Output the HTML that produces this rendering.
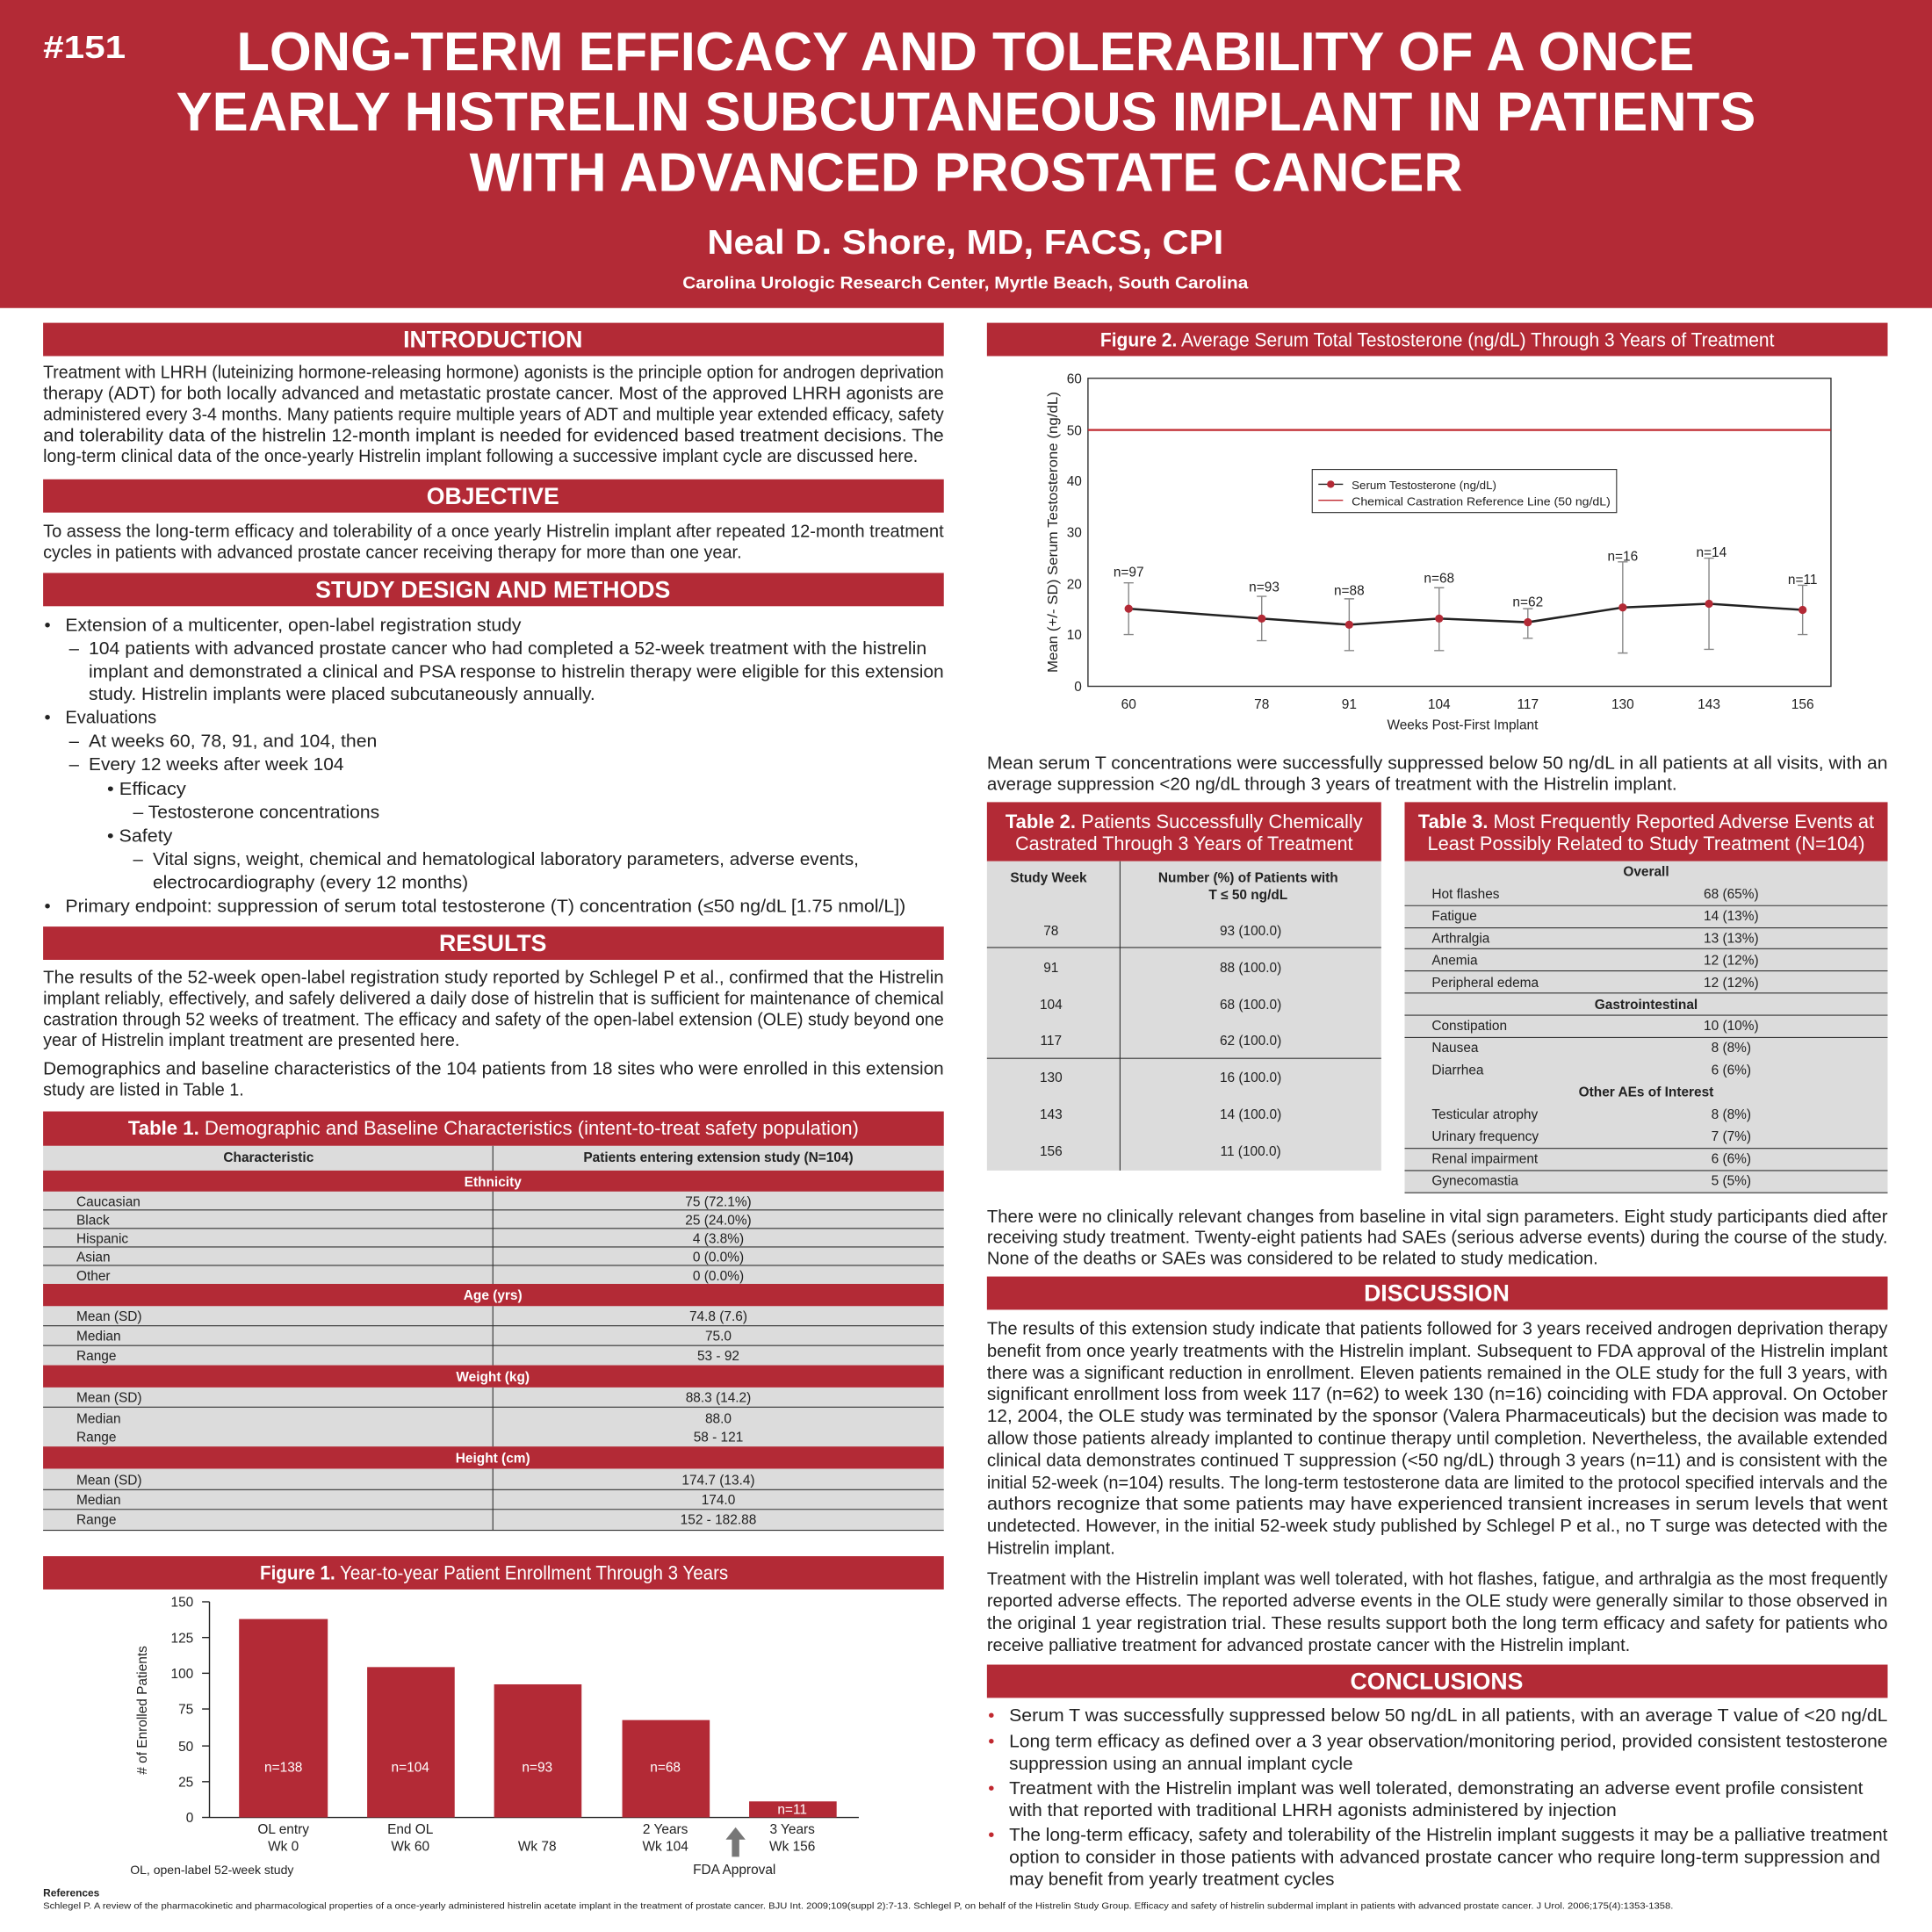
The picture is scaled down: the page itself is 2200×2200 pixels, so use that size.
<!DOCTYPE html>
<html><head><meta charset="utf-8"><style>
html,body{margin:0;padding:0;background:#fff}
svg{display:block}
text{font-family:"Liberation Sans",sans-serif;fill:#222}
.b{font-size:14.5px}
.w{fill:#fff}
.h{font-weight:bold;fill:#fff;font-size:19px}
.t{font-size:11px}
.tb{font-size:11px;font-weight:bold}
</style></head><body>
<svg width="2200" height="2200" viewBox="0 0 1568 1568" xmlns="http://www.w3.org/2000/svg">
<rect x="0" y="0" width="1568" height="1568" fill="#fff"/>
<rect x="0" y="0" width="1568" height="250" fill="#b32a36"/>
<text x="35" y="47" font-size="26" font-weight="bold" class="w" textLength="67" lengthAdjust="spacingAndGlyphs">#151</text>
<g font-weight="bold" font-size="44" class="w">
<text x="192" y="57" class="w" textLength="1183" lengthAdjust="spacingAndGlyphs">LONG-TERM EFFICACY AND TOLERABILITY OF A ONCE</text>
<text x="143" y="106" class="w" textLength="1282" lengthAdjust="spacingAndGlyphs">YEARLY HISTRELIN SUBCUTANEOUS IMPLANT IN PATIENTS</text>
<text x="381" y="155" class="w" textLength="806" lengthAdjust="spacingAndGlyphs">WITH ADVANCED PROSTATE CANCER</text>
</g>
<text x="574" y="206" font-size="28" font-weight="bold" class="w" textLength="419" lengthAdjust="spacingAndGlyphs">Neal D. Shore, MD, FACS, CPI</text>
<text x="554" y="234" font-size="14" font-weight="bold" class="w" textLength="459" lengthAdjust="spacingAndGlyphs">Carolina Urologic Research Center, Myrtle Beach, South Carolina</text>

<g fill="#b32a36">
<rect x="35" y="262" width="731" height="27"/>
<rect x="35" y="389" width="731" height="27"/>
<rect x="35" y="465" width="731" height="27"/>
<rect x="35" y="752" width="731" height="27"/>
<rect x="35" y="902" width="731" height="28"/>
<rect x="35" y="1263" width="731" height="27"/>
<rect x="801" y="262" width="731" height="27"/>
<rect x="801" y="651" width="320" height="48"/>
<rect x="1140" y="651" width="392" height="48"/>
<rect x="801" y="1036" width="731" height="27"/>
<rect x="801" y="1351" width="731" height="27"/>
</g>
<g text-anchor="middle">
<text x="400" y="282" class="h">INTRODUCTION</text>
<text x="400" y="409" class="h">OBJECTIVE</text>
<text x="400" y="485" class="h">STUDY DESIGN AND METHODS</text>
<text x="400" y="772" class="h">RESULTS</text>
<text x="1166" y="1056" class="h">DISCUSSION</text>
<text x="1166" y="1371" class="h">CONCLUSIONS</text>
</g>

<g class="b">
<text x="35" y="307" class="b" textLength="731" lengthAdjust="spacingAndGlyphs">Treatment with LHRH (luteinizing hormone-releasing hormone) agonists is the principle option for androgen deprivation</text>
<text x="35" y="324" class="b" textLength="731" lengthAdjust="spacingAndGlyphs">therapy (ADT) for both locally advanced and metastatic prostate cancer. Most of the approved LHRH agonists are</text>
<text x="35" y="341" class="b" textLength="731" lengthAdjust="spacingAndGlyphs">administered every 3-4 months. Many patients require multiple years of ADT and multiple year extended efficacy, safety</text>
<text x="35" y="358" class="b" textLength="731" lengthAdjust="spacingAndGlyphs">and tolerability data of the histrelin 12-month implant is needed for evidenced based treatment decisions. The</text>
<text x="35" y="375" class="b" textLength="710" lengthAdjust="spacingAndGlyphs">long-term clinical data of the once-yearly Histrelin implant following a successive implant cycle are discussed here.</text>

<text x="35" y="436" class="b" textLength="731" lengthAdjust="spacingAndGlyphs">To assess the long-term efficacy and tolerability of a once yearly Histrelin implant after repeated 12-month treatment</text>
<text x="35" y="453" class="b" textLength="567" lengthAdjust="spacingAndGlyphs">cycles in patients with advanced prostate cancer receiving therapy for more than one year.</text>

<text x="36" y="512" class="b">•</text><text x="53" y="512" class="b" textLength="370" lengthAdjust="spacingAndGlyphs">Extension of a multicenter,  open-label registration study</text>
<text x="56" y="531" class="b">–</text><text x="72" y="531" class="b" textLength="680" lengthAdjust="spacingAndGlyphs">104 patients with advanced prostate cancer who had completed a 52-week treatment with the histrelin</text>
<text x="72" y="550" class="b" textLength="694" lengthAdjust="spacingAndGlyphs">implant and demonstrated a clinical and PSA response to histrelin therapy were eligible for this extension</text>
<text x="72" y="568" class="b" textLength="411" lengthAdjust="spacingAndGlyphs">study. Histrelin implants were placed subcutaneously annually.</text>
<text x="36" y="587" class="b">•</text><text x="53" y="587" class="b" textLength="74" lengthAdjust="spacingAndGlyphs">Evaluations</text>
<text x="56" y="606" class="b">–</text><text x="72" y="606" class="b" textLength="234" lengthAdjust="spacingAndGlyphs">At weeks 60, 78, 91, and 104, then</text>
<text x="56" y="625" class="b">–</text><text x="72" y="625" class="b" textLength="207" lengthAdjust="spacingAndGlyphs">Every 12 weeks after week 104</text>
<text x="87" y="645" class="b" textLength="64" lengthAdjust="spacingAndGlyphs">• Efficacy</text>
<text x="108" y="664" class="b" textLength="200" lengthAdjust="spacingAndGlyphs">– Testosterone concentrations</text>
<text x="87" y="683" class="b" textLength="53" lengthAdjust="spacingAndGlyphs">• Safety</text>
<text x="108" y="702" class="b">–</text><text x="124" y="702" class="b" textLength="573" lengthAdjust="spacingAndGlyphs">Vital signs, weight, chemical and hematological laboratory parameters, adverse events,</text>
<text x="124" y="721" class="b" textLength="256" lengthAdjust="spacingAndGlyphs">electrocardiography (every 12 months)</text>
<text x="36" y="740" class="b">•</text><text x="53" y="740" class="b" textLength="682" lengthAdjust="spacingAndGlyphs">Primary endpoint: suppression of serum total testosterone (T) concentration (≤50 ng/dL [1.75 nmol/L])</text>

<text x="35" y="798" class="b" textLength="731" lengthAdjust="spacingAndGlyphs">The results of the 52-week open-label registration study reported by Schlegel P et al., confirmed that the Histrelin</text>
<text x="35" y="815" class="b" textLength="731" lengthAdjust="spacingAndGlyphs">implant reliably, effectively, and safely delivered a daily dose of histrelin that is sufficient for maintenance of chemical</text>
<text x="35" y="832" class="b" textLength="731" lengthAdjust="spacingAndGlyphs">castration through 52 weeks of treatment. The efficacy and safety of the open-label extension (OLE) study beyond one</text>
<text x="35" y="849" class="b" textLength="338" lengthAdjust="spacingAndGlyphs">year of Histrelin implant treatment are presented here.</text>
<text x="35" y="872" class="b" textLength="731" lengthAdjust="spacingAndGlyphs">Demographics and baseline characteristics of the 104 patients from 18 sites who were enrolled in this extension</text>
<text x="35" y="889" class="b" textLength="163" lengthAdjust="spacingAndGlyphs">study are listed in Table 1.</text>
</g>

<text x="104" y="921" font-size="16" class="w" textLength="593" lengthAdjust="spacingAndGlyphs"><tspan font-weight="bold" class="w">Table 1.</tspan> Demographic and Baseline Characteristics (intent-to-treat safety population)</text>
<rect x="35" y="930" width="731" height="312" fill="#dcdcdc"/>
<g fill="#b32a36">
<rect x="35" y="950" width="731" height="17"/>
<rect x="35" y="1042" width="731" height="18"/>
<rect x="35" y="1108" width="731" height="18"/>
<rect x="35" y="1174" width="731" height="18"/>
</g>
<g stroke="#333" stroke-width="0.8">
<line x1="400" y1="930" x2="400" y2="950"/>
<line x1="400" y1="967" x2="400" y2="1042"/>
<line x1="400" y1="1060" x2="400" y2="1108"/>
<line x1="400" y1="1126" x2="400" y2="1174"/>
<line x1="400" y1="1192" x2="400" y2="1242"/>
<line x1="35" y1="982" x2="766" y2="982"/>
<line x1="35" y1="997" x2="766" y2="997"/>
<line x1="35" y1="1012" x2="766" y2="1012"/>
<line x1="35" y1="1027" x2="766" y2="1027"/>
<line x1="35" y1="1076" x2="766" y2="1076"/>
<line x1="35" y1="1092" x2="766" y2="1092"/>
<line x1="35" y1="1142" x2="766" y2="1142"/>
<line x1="35" y1="1209" x2="766" y2="1209"/>
<line x1="35" y1="1225" x2="766" y2="1225"/>
<line x1="35" y1="1242" x2="766" y2="1242"/>
</g>
<g class="t" font-size="11">
<text x="218" y="943" class="tb" text-anchor="middle">Characteristic</text>
<text x="583" y="943" class="tb" text-anchor="middle">Patients entering extension study (N=104)</text>
<text x="400" y="963" class="tb w" text-anchor="middle">Ethnicity</text>
<text x="400" y="1055" class="tb w" text-anchor="middle">Age (yrs)</text>
<text x="400" y="1121" class="tb w" text-anchor="middle">Weight (kg)</text>
<text x="400" y="1187" class="tb w" text-anchor="middle">Height (cm)</text>
<text x="62" y="979" class="t">Caucasian</text><text x="583" y="979" class="t" text-anchor="middle">75 (72.1%)</text>
<text x="62" y="994" class="t">Black</text><text x="583" y="994" class="t" text-anchor="middle">25 (24.0%)</text>
<text x="62" y="1009" class="t">Hispanic</text><text x="583" y="1009" class="t" text-anchor="middle">4 (3.8%)</text>
<text x="62" y="1024" class="t">Asian</text><text x="583" y="1024" class="t" text-anchor="middle">0 (0.0%)</text>
<text x="62" y="1039" class="t">Other</text><text x="583" y="1039" class="t" text-anchor="middle">0 (0.0%)</text>
<text x="62" y="1072" class="t">Mean (SD)</text><text x="583" y="1072" class="t" text-anchor="middle">74.8 (7.6)</text>
<text x="62" y="1088" class="t">Median</text><text x="583" y="1088" class="t" text-anchor="middle">75.0</text>
<text x="62" y="1104" class="t">Range</text><text x="583" y="1104" class="t" text-anchor="middle">53 - 92</text>
<text x="62" y="1138" class="t">Mean (SD)</text><text x="583" y="1138" class="t" text-anchor="middle">88.3 (14.2)</text>
<text x="62" y="1155" class="t">Median</text><text x="583" y="1155" class="t" text-anchor="middle">88.0</text>
<text x="62" y="1170" class="t">Range</text><text x="583" y="1170" class="t" text-anchor="middle">58 - 121</text>
<text x="62" y="1205" class="t">Mean (SD)</text><text x="583" y="1205" class="t" text-anchor="middle">174.7 (13.4)</text>
<text x="62" y="1221" class="t">Median</text><text x="583" y="1221" class="t" text-anchor="middle">174.0</text>
<text x="62" y="1237" class="t">Range</text><text x="583" y="1237" class="t" text-anchor="middle">152 - 182.88</text>
</g>

<text x="211" y="1282" font-size="16" class="w" textLength="380" lengthAdjust="spacingAndGlyphs"><tspan font-weight="bold" class="w">Figure 1.</tspan> Year-to-year Patient Enrollment Through 3 Years</text>
<g stroke="#222" stroke-width="1">
<line x1="170" y1="1300" x2="170" y2="1475"/>
<line x1="170" y1="1475" x2="697" y2="1475"/>
<line x1="164" y1="1300" x2="170" y2="1300"/>
<line x1="164" y1="1329" x2="170" y2="1329"/>
<line x1="164" y1="1358" x2="170" y2="1358"/>
<line x1="164" y1="1387" x2="170" y2="1387"/>
<line x1="164" y1="1417" x2="170" y2="1417"/>
<line x1="164" y1="1446" x2="170" y2="1446"/>
<line x1="164" y1="1475" x2="170" y2="1475"/>
</g>
<g font-size="11" text-anchor="end">
<text x="157" y="1304" font-size="11">150</text>
<text x="157" y="1333" font-size="11">125</text>
<text x="157" y="1362" font-size="11">100</text>
<text x="157" y="1391" font-size="11">75</text>
<text x="157" y="1421" font-size="11">50</text>
<text x="157" y="1450" font-size="11">25</text>
<text x="157" y="1479" font-size="11">0</text>
</g>
<text transform="translate(119,1388) rotate(-90)" text-anchor="middle" font-size="11">#  of Enrolled Patients</text>
<g fill="#b32a36">
<rect x="194" y="1314" width="72" height="161"/>
<rect x="298" y="1353" width="71" height="122"/>
<rect x="401" y="1367" width="71" height="108"/>
<rect x="505" y="1396" width="71" height="79"/>
<rect x="608" y="1462" width="71" height="13"/>
</g>
<g font-size="11" text-anchor="middle">
<text x="230" y="1438" class="w" font-size="11">n=138</text>
<text x="333" y="1438" class="w" font-size="11">n=104</text>
<text x="436" y="1438" class="w" font-size="11">n=93</text>
<text x="540" y="1438" class="w" font-size="11">n=68</text>
<text x="643" y="1472" class="w" font-size="11">n=11</text>
<text x="230" y="1488" font-size="11">OL entry</text><text x="230" y="1502" font-size="11">Wk 0</text>
<text x="333" y="1488" font-size="11">End OL</text><text x="333" y="1502" font-size="11">Wk 60</text>
<text x="436" y="1502" font-size="11">Wk 78</text>
<text x="540" y="1488" font-size="11">2 Years</text><text x="540" y="1502" font-size="11">Wk 104</text>
<text x="643" y="1488" font-size="11">3 Years</text><text x="643" y="1502" font-size="11">Wk 156</text>
<text x="596" y="1521" font-size="11">FDA Approval</text>
<text x="172" y="1521" font-size="10">OL, open-label 52-week study</text>
</g>
<polygon points="597,1483 605,1493 600,1493 600,1507 594,1507 594,1493 589,1493" fill="#777"/>
<text x="35" y="1539" font-size="8.5" font-weight="bold">References</text>
<text x="35" y="1549" font-size="7.5" fill="#444" textLength="1323" lengthAdjust="spacingAndGlyphs">Schlegel P. A review of the pharmacokinetic and pharmacological properties of a once-yearly administered histrelin acetate implant in the treatment of prostate cancer. BJU Int. 2009;109(suppl 2):7-13. Schlegel P, on behalf of the Histrelin Study Group. Efficacy and safety of histrelin subdermal implant in patients with advanced prostate cancer. J Urol. 2006;175(4):1353-1358.</text>

<text x="893" y="281" font-size="16" class="w" textLength="547" lengthAdjust="spacingAndGlyphs"><tspan font-weight="bold" class="w">Figure 2.</tspan> Average Serum Total Testosterone (ng/dL) Through 3 Years of Treatment</text>
<rect x="883" y="307" width="603" height="250" fill="none" stroke="#333" stroke-width="1"/>
<line x1="883" y1="349" x2="1486" y2="349" stroke="#c0282f" stroke-width="1.6"/>
<g font-size="11" text-anchor="end">
<text x="878" y="311" font-size="11">60</text>
<text x="878" y="353" font-size="11">50</text>
<text x="878" y="394" font-size="11">40</text>
<text x="878" y="436" font-size="11">30</text>
<text x="878" y="478" font-size="11">20</text>
<text x="878" y="519" font-size="11">10</text>
<text x="878" y="561" font-size="11">0</text>
</g>
<text transform="translate(858,432) rotate(-90)" text-anchor="middle" font-size="11" textLength="228" lengthAdjust="spacingAndGlyphs">Mean (+/- SD) Serum Testosterone (ng/dL)</text>
<g font-size="11" text-anchor="middle">
<text x="916" y="575" font-size="11">60</text>
<text x="1024" y="575" font-size="11">78</text>
<text x="1095" y="575" font-size="11">91</text>
<text x="1168" y="575" font-size="11">104</text>
<text x="1240" y="575" font-size="11">117</text>
<text x="1317" y="575" font-size="11">130</text>
<text x="1387" y="575" font-size="11">143</text>
<text x="1463" y="575" font-size="11">156</text>
<text x="1187" y="592" font-size="11">Weeks Post-First Implant</text>
<text x="916" y="468" font-size="11">n=97</text>
<text x="1026" y="480" font-size="11">n=93</text>
<text x="1095" y="483" font-size="11">n=88</text>
<text x="1168" y="473" font-size="11">n=68</text>
<text x="1240" y="492" font-size="11">n=62</text>
<text x="1317" y="455" font-size="11">n=16</text>
<text x="1389" y="452" font-size="11">n=14</text>
<text x="1463" y="474" font-size="11">n=11</text>
</g>
<g stroke="#888" stroke-width="1">
<path d="M916 473V515M912 473H920M912 515H920"/>
<path d="M1024 484V520M1020 484H1028M1020 520H1028"/>
<path d="M1095 486V528M1091 486H1099M1091 528H1099"/>
<path d="M1168 477V528M1164 477H1172M1164 528H1172"/>
<path d="M1240 494V518M1236 494H1244M1236 518H1244"/>
<path d="M1317 456V530M1313 456H1321M1313 530H1321"/>
<path d="M1387 453V527M1383 453H1391M1383 527H1391"/>
<path d="M1463 475V515M1459 475H1467M1459 515H1467"/>
</g>
<polyline points="916,494 1024,502 1095,507 1168,502 1240,505 1317,493 1387,490 1463,495" fill="none" stroke="#222" stroke-width="1.8"/>
<g fill="#b32a36">
<circle cx="916" cy="494" r="3.3"/><circle cx="1024" cy="502" r="3.3"/><circle cx="1095" cy="507" r="3.3"/><circle cx="1168" cy="502" r="3.3"/><circle cx="1240" cy="505" r="3.3"/><circle cx="1317" cy="493" r="3.3"/><circle cx="1387" cy="490" r="3.3"/><circle cx="1463" cy="495" r="3.3"/>
</g>
<rect x="1065" y="381" width="247" height="35" fill="#fff" stroke="#333" stroke-width="0.8"/>
<line x1="1070" y1="393" x2="1090" y2="393" stroke="#222" stroke-width="1"/>
<circle cx="1080" cy="393" r="3" fill="#b32a36"/>
<line x1="1070" y1="406" x2="1090" y2="406" stroke="#c0282f" stroke-width="1"/>
<text x="1097" y="397" font-size="9.5">Serum Testosterone (ng/dL)</text>
<text x="1097" y="410" font-size="9.5" textLength="210" lengthAdjust="spacingAndGlyphs">Chemical Castration Reference Line (50 ng/dL)</text>

<text x="801" y="624" class="b" textLength="731" lengthAdjust="spacingAndGlyphs">Mean serum T concentrations were successfully suppressed below 50 ng/dL in all patients at all visits, with an</text>
<text x="801" y="641" class="b" textLength="560" lengthAdjust="spacingAndGlyphs">average suppression &lt;20 ng/dL through 3 years of treatment with the Histrelin implant.</text>

<text x="961" y="672" font-size="15.5" class="w" text-anchor="middle" textLength="290" lengthAdjust="spacingAndGlyphs"><tspan font-weight="bold" class="w">Table 2.</tspan> Patients Successfully Chemically</text>
<text x="961" y="690" font-size="15.5" class="w" text-anchor="middle" textLength="274" lengthAdjust="spacingAndGlyphs">Castrated Through 3 Years of Treatment</text>
<rect x="801" y="699" width="320" height="251" fill="#dcdcdc"/>
<g stroke="#333" stroke-width="0.8">
<line x1="909" y1="699" x2="909" y2="950"/>
<line x1="801" y1="769" x2="1121" y2="769"/>
<line x1="801" y1="859" x2="1121" y2="859"/>
</g>
<g text-anchor="middle" font-size="11">
<text x="851" y="716" class="tb">Study Week</text>
<text x="1013" y="716" class="tb">Number (%) of Patients with</text>
<text x="1013" y="730" class="tb">T ≤ 50 ng/dL</text>
<text x="853" y="759" class="t">78</text><text x="1015" y="759" class="t">93 (100.0)</text>
<text x="853" y="789" class="t">91</text><text x="1015" y="789" class="t">88 (100.0)</text>
<text x="853" y="819" class="t">104</text><text x="1015" y="819" class="t">68 (100.0)</text>
<text x="853" y="848" class="t">117</text><text x="1015" y="848" class="t">62 (100.0)</text>
<text x="853" y="878" class="t">130</text><text x="1015" y="878" class="t">16 (100.0)</text>
<text x="853" y="908" class="t">143</text><text x="1015" y="908" class="t">14 (100.0)</text>
<text x="853" y="938" class="t">156</text><text x="1015" y="938" class="t">11 (100.0)</text>
</g>

<text x="1336" y="672" font-size="15.5" class="w" text-anchor="middle" textLength="370" lengthAdjust="spacingAndGlyphs"><tspan font-weight="bold" class="w">Table 3.</tspan> Most Frequently Reported Adverse Events at</text>
<text x="1336" y="690" font-size="15.5" class="w" text-anchor="middle" textLength="355" lengthAdjust="spacingAndGlyphs">Least Possibly Related to Study Treatment (N=104)</text>
<rect x="1140" y="699" width="392" height="269" fill="#dcdcdc"/>
<g stroke="#333" stroke-width="0.8">
<line x1="1140" y1="735" x2="1532" y2="735"/>
<line x1="1140" y1="753" x2="1532" y2="753"/>
<line x1="1140" y1="770" x2="1532" y2="770"/>
<line x1="1140" y1="788" x2="1532" y2="788"/>
<line x1="1140" y1="806" x2="1532" y2="806"/>
<line x1="1140" y1="824" x2="1532" y2="824"/>
<line x1="1140" y1="842" x2="1532" y2="842"/>
<line x1="1140" y1="932" x2="1532" y2="932"/>
<line x1="1140" y1="950" x2="1532" y2="950"/>
<line x1="1140" y1="968" x2="1532" y2="968"/>
</g>
<g font-size="11">
<text x="1336" y="711" class="tb" text-anchor="middle">Overall</text>
<text x="1336" y="819" class="tb" text-anchor="middle">Gastrointestinal</text>
<text x="1336" y="890" class="tb" text-anchor="middle">Other AEs of Interest</text>
<text x="1162" y="729" class="t">Hot flashes</text><text x="1405" y="729" class="t" text-anchor="middle">68 (65%)</text>
<text x="1162" y="747" class="t">Fatigue</text><text x="1405" y="747" class="t" text-anchor="middle">14 (13%)</text>
<text x="1162" y="765" class="t">Arthralgia</text><text x="1405" y="765" class="t" text-anchor="middle">13 (13%)</text>
<text x="1162" y="783" class="t">Anemia</text><text x="1405" y="783" class="t" text-anchor="middle">12 (12%)</text>
<text x="1162" y="801" class="t">Peripheral edema</text><text x="1405" y="801" class="t" text-anchor="middle">12 (12%)</text>
<text x="1162" y="836" class="t">Constipation</text><text x="1405" y="836" class="t" text-anchor="middle">10 (10%)</text>
<text x="1162" y="854" class="t">Nausea</text><text x="1405" y="854" class="t" text-anchor="middle">8 (8%)</text>
<text x="1162" y="872" class="t">Diarrhea</text><text x="1405" y="872" class="t" text-anchor="middle">6 (6%)</text>
<text x="1162" y="908" class="t">Testicular atrophy</text><text x="1405" y="908" class="t" text-anchor="middle">8 (8%)</text>
<text x="1162" y="926" class="t">Urinary frequency</text><text x="1405" y="926" class="t" text-anchor="middle">7 (7%)</text>
<text x="1162" y="944" class="t">Renal impairment</text><text x="1405" y="944" class="t" text-anchor="middle">6 (6%)</text>
<text x="1162" y="962" class="t">Gynecomastia</text><text x="1405" y="962" class="t" text-anchor="middle">5 (5%)</text>
</g>

<text x="801" y="992" class="b" textLength="731" lengthAdjust="spacingAndGlyphs">There were no clinically relevant changes from baseline in vital sign parameters. Eight study participants died after</text>
<text x="801" y="1009" class="b" textLength="731" lengthAdjust="spacingAndGlyphs">receiving study treatment. Twenty-eight patients had SAEs (serious adverse events) during the course of the study.</text>
<text x="801" y="1026" class="b" textLength="496" lengthAdjust="spacingAndGlyphs">None of the deaths or SAEs was considered to be related to study medication.</text>

<text x="801" y="1083" class="b" textLength="731" lengthAdjust="spacingAndGlyphs">The results of this extension study indicate that patients followed for 3 years received androgen deprivation therapy</text>
<text x="801" y="1101" class="b" textLength="731" lengthAdjust="spacingAndGlyphs">benefit from once yearly treatments with the Histrelin implant. Subsequent to FDA approval of the Histrelin implant</text>
<text x="801" y="1119" class="b" textLength="731" lengthAdjust="spacingAndGlyphs">there was a significant reduction in enrollment. Eleven patients remained in the OLE study for the full 3 years, with</text>
<text x="801" y="1136" class="b" textLength="731" lengthAdjust="spacingAndGlyphs">significant enrollment loss from week 117 (n=62) to week 130 (n=16) coinciding with FDA approval. On October</text>
<text x="801" y="1154" class="b" textLength="731" lengthAdjust="spacingAndGlyphs">12, 2004, the OLE study was terminated by the sponsor (Valera Pharmaceuticals) but the decision was made to</text>
<text x="801" y="1172" class="b" textLength="731" lengthAdjust="spacingAndGlyphs">allow those patients already implanted to continue therapy until completion. Nevertheless, the available extended</text>
<text x="801" y="1190" class="b" textLength="731" lengthAdjust="spacingAndGlyphs">clinical data demonstrates continued T suppression (&lt;50 ng/dL) through 3 years (n=11) and is consistent with the</text>
<text x="801" y="1208" class="b" textLength="731" lengthAdjust="spacingAndGlyphs">initial 52-week (n=104) results. The long-term testosterone data are limited to the protocol specified intervals and the</text>
<text x="801" y="1225" class="b" textLength="731" lengthAdjust="spacingAndGlyphs">authors recognize that some patients may have experienced transient increases in serum levels that went</text>
<text x="801" y="1243" class="b" textLength="731" lengthAdjust="spacingAndGlyphs">undetected. However, in the initial 52-week study published by Schlegel P et al., no T surge was detected with the</text>
<text x="801" y="1261" class="b" textLength="104" lengthAdjust="spacingAndGlyphs">Histrelin implant.</text>
<text x="801" y="1286" class="b" textLength="731" lengthAdjust="spacingAndGlyphs">Treatment with the Histrelin implant was well tolerated, with hot flashes, fatigue, and arthralgia as the most frequently</text>
<text x="801" y="1304" class="b" textLength="731" lengthAdjust="spacingAndGlyphs">reported adverse effects. The reported adverse events in the OLE study were generally similar to those observed in</text>
<text x="801" y="1322" class="b" textLength="731" lengthAdjust="spacingAndGlyphs">the original 1 year registration trial. These results support both the long term efficacy and safety for patients who</text>
<text x="801" y="1340" class="b" textLength="522" lengthAdjust="spacingAndGlyphs">receive palliative treatment for advanced prostate cancer with the Histrelin implant.</text>

<text x="802" y="1397" class="b" style="fill:#c0282f">•</text>
<text x="802" y="1418" class="b" style="fill:#c0282f">•</text>
<text x="802" y="1456" class="b" style="fill:#c0282f">•</text>
<text x="802" y="1494" class="b" style="fill:#c0282f">•</text>
<text x="819" y="1397" class="b" textLength="713" lengthAdjust="spacingAndGlyphs">Serum T was successfully suppressed below 50 ng/dL in all patients, with an average T value of &lt;20 ng/dL</text>
<text x="819" y="1418" class="b" textLength="713" lengthAdjust="spacingAndGlyphs">Long term efficacy as defined over a 3 year observation/monitoring period, provided consistent testosterone</text>
<text x="819" y="1436" class="b" textLength="279" lengthAdjust="spacingAndGlyphs">suppression using an annual implant cycle</text>
<text x="819" y="1456" class="b" textLength="693" lengthAdjust="spacingAndGlyphs">Treatment with the Histrelin implant was well tolerated, demonstrating an adverse event profile consistent</text>
<text x="819" y="1474" class="b" textLength="493" lengthAdjust="spacingAndGlyphs">with that reported with traditional LHRH agonists administered by injection</text>
<text x="819" y="1494" class="b" textLength="713" lengthAdjust="spacingAndGlyphs">The long-term efficacy, safety and tolerability of the Histrelin implant suggests it may be a palliative treatment</text>
<text x="819" y="1512" class="b" textLength="707" lengthAdjust="spacingAndGlyphs">option to consider in those patients with advanced prostate cancer who require long-term suppression and</text>
<text x="819" y="1530" class="b" textLength="264" lengthAdjust="spacingAndGlyphs">may benefit from yearly treatment cycles</text>
</svg>
</body></html>
